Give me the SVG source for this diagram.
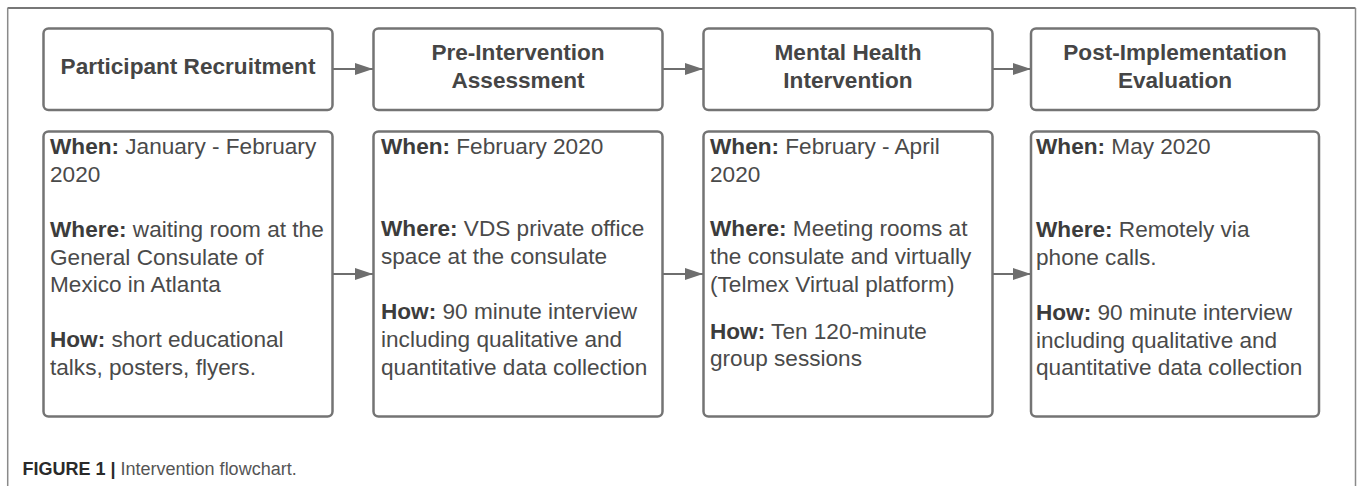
<svg xmlns="http://www.w3.org/2000/svg" width="1357" height="486" viewBox="0 0 1357 486">
<style>
.box{fill:#fff;stroke:#747474;stroke-width:2.5}
.t{font-family:"Liberation Sans",Arial,sans-serif;font-size:22.6px;fill:#4a4a4a}
.h{font-weight:bold;text-anchor:middle;fill:#454545}
.b{font-weight:bold;fill:#3c3c3c}
.conn{stroke:#6e6e6e;stroke-width:2;fill:none}
.cap{font-family:"Liberation Sans",Arial,sans-serif;font-size:18px;fill:#555}
</style>
<defs>
<marker id="arr" markerUnits="userSpaceOnUse" markerWidth="20" markerHeight="14" refX="18" refY="6" orient="auto">
<path d="M0,0 L18,6 L0,12 Z" fill="#6e6e6e"/>
</marker>
</defs>
<rect width="1357" height="486" fill="#fff"/>
<g id="frame">
<line x1="7.5" y1="8" x2="1355.5" y2="8" stroke="#4a4a4a" stroke-width="1.5"/>
<line x1="7.7" y1="8" x2="7.7" y2="486" stroke="#8a8a8a" stroke-width="1.5"/>
<line x1="1355.5" y1="8" x2="1355.5" y2="486" stroke="#8a8a8a" stroke-width="1.5"/>
</g>
<g id="connectors">
<line class="conn" x1="333" y1="69" x2="373" y2="69" marker-end="url(#arr)"/>
<line class="conn" x1="663" y1="69" x2="703" y2="69" marker-end="url(#arr)"/>
<line class="conn" x1="992" y1="69" x2="1031" y2="69" marker-end="url(#arr)"/>
<line class="conn" x1="333" y1="274" x2="373" y2="274" marker-end="url(#arr)"/>
<line class="conn" x1="663" y1="274" x2="703" y2="274" marker-end="url(#arr)"/>
<line class="conn" x1="992" y1="274" x2="1031" y2="274" marker-end="url(#arr)"/>
</g>
<g id="step1">
<rect class="box" x="43.5" y="28.5" width="289" height="81.5" rx="5"/>
<text class="t h" x="188" y="74">Participant Recruitment</text>
</g>
<g id="step2">
<rect class="box" x="373.5" y="28.5" width="289" height="81.5" rx="5"/>
<text class="t h" x="518" y="60">Pre-Intervention</text>
<text class="t h" x="518" y="88">Assessment</text>
</g>
<g id="step3">
<rect class="box" x="703.5" y="28.5" width="289" height="81.5" rx="5"/>
<text class="t h" x="848" y="60">Mental Health</text>
<text class="t h" x="848" y="88">Intervention</text>
</g>
<g id="step4">
<rect class="box" x="1031" y="28.5" width="288" height="81.5" rx="5"/>
<text class="t h" x="1175" y="60">Post-Implementation</text>
<text class="t h" x="1175" y="88">Evaluation</text>
</g>
<g id="detail1">
<rect class="box" x="43.5" y="131.5" width="289" height="285" rx="5"/>
<text class="t" x="50" y="154"><tspan class="b">When:</tspan> January - February</text>
<text class="t" x="50" y="182">2020</text>
<text class="t" x="50" y="237"><tspan class="b">Where:</tspan> waiting room at the</text>
<text class="t" x="50" y="264.5">General Consulate of</text>
<text class="t" x="50" y="292">Mexico in Atlanta</text>
<text class="t" x="50" y="347"><tspan class="b">How:</tspan> short educational</text>
<text class="t" x="50" y="374.5">talks, posters, flyers.</text>
</g>
<g id="detail2">
<rect class="box" x="373.5" y="131.5" width="289" height="285" rx="5"/>
<text class="t" x="381" y="154"><tspan class="b">When:</tspan> February 2020</text>
<text class="t" x="381" y="236"><tspan class="b">Where:</tspan> VDS private office</text>
<text class="t" x="381" y="263.5">space at the consulate</text>
<text class="t" x="381" y="319"><tspan class="b">How:</tspan> 90 minute interview</text>
<text class="t" x="381" y="347">including qualitative and</text>
<text class="t" x="381" y="375">quantitative data collection</text>
</g>
<g id="detail3">
<rect class="box" x="703.5" y="131.5" width="289" height="285" rx="5"/>
<text class="t" x="710" y="154"><tspan class="b">When:</tspan> February - April</text>
<text class="t" x="710" y="182">2020</text>
<text class="t" x="710" y="236"><tspan class="b">Where:</tspan> Meeting rooms at</text>
<text class="t" x="710" y="263.5">the consulate and virtually</text>
<text class="t" x="710" y="292">(Telmex Virtual platform)</text>
<text class="t" x="710" y="338.5"><tspan class="b">How:</tspan> Ten 120-minute</text>
<text class="t" x="710" y="366">group sessions</text>
</g>
<g id="detail4">
<rect class="box" x="1031" y="131.5" width="288" height="285" rx="5"/>
<text class="t" x="1036" y="154"><tspan class="b">When:</tspan> May 2020</text>
<text class="t" x="1036" y="237"><tspan class="b">Where:</tspan> Remotely via</text>
<text class="t" x="1036" y="264.5">phone calls.</text>
<text class="t" x="1036" y="320"><tspan class="b">How:</tspan> 90 minute interview</text>
<text class="t" x="1036" y="348">including qualitative and</text>
<text class="t" x="1036" y="375">quantitative data collection</text>
</g>
<g id="caption">
<text class="cap" x="22.5" y="475"><tspan font-weight="bold" fill="#2a2a2a">FIGURE 1 | </tspan>Intervention flowchart.</text>
</g>
</svg>
